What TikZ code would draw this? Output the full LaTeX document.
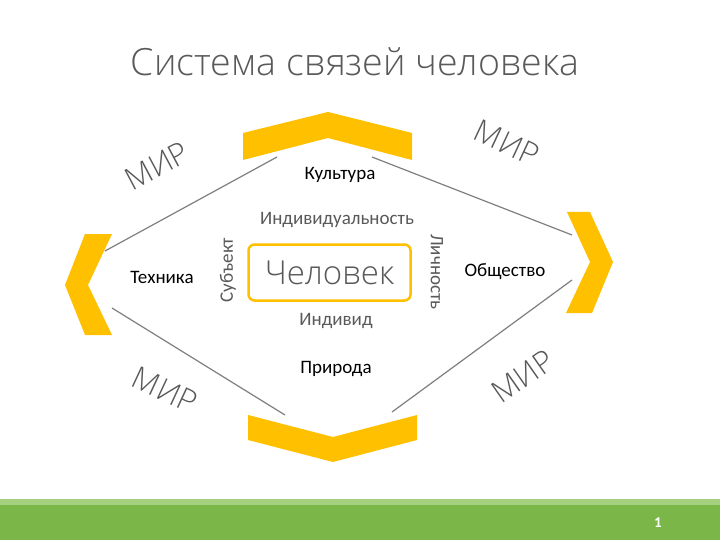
\documentclass[tikz,border=0pt]{standalone}
\usepackage{fontspec}
\setmainfont{Carlito}
\newfontfamily\tfont{Open Sans Light}
\newfontfamily\mfont{Open Sans}
\definecolor{gold}{HTML}{FFC000}
\definecolor{txtgray}{HTML}{595959}
\definecolor{lngray}{HTML}{7F7F7F}
\definecolor{grn}{HTML}{7AB648}
\definecolor{grnl}{HTML}{A6D07E}
\begin{document}
\begin{tikzpicture}[x=1pt,y=-1pt,
  chev/.style={fill=gold,draw=none},
  conn/.style={draw=lngray,line width=1.2pt},
  lbl/.style={font=\fontsize{19}{21}\selectfont,text=black},
  glbl/.style={font=\fontsize{19}{21}\selectfont,text=txtgray},
  mir/.style={font=\tfont\fontsize{31}{33}\selectfont,text=txtgray}]
\useasboundingbox (0,0) rectangle (720,540);
\fill[white] (0,0) rectangle (720,540);
% title
\node (title) at (355,62) {\tfont\fontsize{37.5}{40}\selectfont\color{txtgray}Система связей человека};
% chevrons
\fill[chev] (243,160) -- (243,133) -- (328,112) -- (412,133) -- (412,160) -- (328,138) -- cycle;
\fill[chev] (248,415) -- (333,437) -- (417,415) -- (417,440) -- (333,462) -- (248,440) -- cycle;
\fill[chev] (112,234) -- (85,234) -- (65,285) -- (85,335) -- (112,335) -- (88,285) -- cycle;
\fill[chev] (567,212) -- (590,212) -- (613,262) -- (592,313) -- (566,313) -- (590,262) -- cycle;
% connector end points
\coordinate (a1) at (105,251); \coordinate (a2) at (277,157);
\coordinate (b1) at (372,157); \coordinate (b2) at (572,235);
\coordinate (c1) at (112,308); \coordinate (c2) at (285,415);
\coordinate (d1) at (392,412); \coordinate (d2) at (572,280);
\draw[conn] (a1) -- (a2);
\draw[conn] (b1) -- (b2);
\draw[conn] (c1) -- (c2);
\draw[conn] (d1) -- (d2);
% center box
\node[draw=gold,line width=2.5pt,rounded corners=6pt,minimum width=162pt,minimum height=56pt,
  font=\tfont\fontsize{33}{36}\selectfont,text=txtgray] (man) at (329.5,272.5) {Человек};
% texts
\node[lbl] (kult) at (340,175) {Культура};
\node[glbl] (indv) at (337,220) {Индивидуальность};
\node[lbl] (tech) at (162,277) {Техника};
\node[glbl,rotate=90] (subj) at (228,270) {Субъект};
\node[glbl,rotate=-90] (lich) at (437,272) {Личность};
\node[glbl] (ind) at (336,321) {Индивид};
\node[lbl] (obsh) at (505,272) {Общество};
\node[lbl] (prir) at (336,369) {Природа};
% MIR
\node[mir,rotate=28] (m1) at (157,166) {МИР};
\node[mir,rotate=-25] (m2) at (507,143) {МИР};
\node[mir,rotate=-25] (m3) at (165,390) {МИР};
\node[mir,rotate=35] (m4) at (523,376) {МИР};
% footer
\fill[grnl] (0,499) rectangle (720,505);
\fill[grn] (0,505) rectangle (720,540);
\node[font=\fontsize{15}{16}\selectfont\bfseries,text=white] (pg) at (658,523) {1};
\end{tikzpicture}
\end{document}
